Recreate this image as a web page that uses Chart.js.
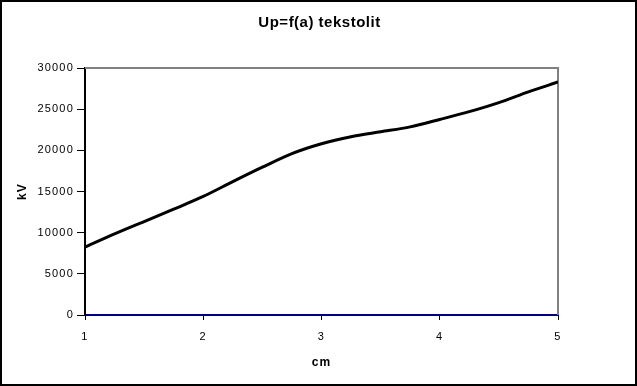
<!DOCTYPE html>
<html>
<head>
<meta charset="utf-8">
<script src="https://cdn.jsdelivr.net/npm/chart.js@4"></script>
<style>
  html, body { margin: 0; padding: 0; background: #fff; }
  #wrap { width: 637px; height: 386px; }
</style>
</head>
<body>
<div id="wrap"><canvas id="upChart" width="637" height="386"></canvas></div>
<script>
// values
const distanceCm = [1, 1.25, 1.5, 1.75, 2, 2.25, 2.5, 2.75, 3, 3.25, 3.5, 3.75, 4, 4.25, 4.5, 4.75, 5];
const voltageKv = [8250, 9850, 11350, 12850, 14400, 16200, 17950, 19600, 20800, 21650, 22250, 22850, 23750, 24700, 25800, 27100, 28300];
const xTicks = [1, 2, 3, 4, 5];
const yTicks = [0, 5000, 10000, 15000, 20000, 25000, 30000];

const points = distanceCm.map((x, i) => ({ x: x, y: voltageKv[i] }));

// gray top/right edge of the plot area and black frame round the picture
const frames = {
    id: 'frames',
    afterLayout(chart) {
        const tb = chart.titleBlock;
        if (!tb) return;
        // centre the title over the plot area
        tb.left = 81;
        tb.right = 558;
        if (!tb._spaced) {
            const origDraw = tb.draw;
            tb.draw = function () {
                const ctx = chart.ctx;
                const keep = ctx.letterSpacing;
                ctx.letterSpacing = '0.5px';
                origDraw.apply(this, arguments);
                ctx.letterSpacing = keep;
            };
            tb._spaced = true;
        }
    },
    beforeDraw(chart) {
        // the original tick text is spaced out a little
        chart.ctx.letterSpacing = '1.2px';
    },
    beforeDatasetsDraw(chart) {
        const { ctx, chartArea: a } = chart;
        ctx.save();
        ctx.strokeStyle = '#808080';
        ctx.lineWidth = 2;
        ctx.beginPath();
        ctx.moveTo(a.left, a.top);
        ctx.lineTo(a.right, a.top);
        ctx.lineTo(a.right, a.bottom);
        ctx.stroke();
        ctx.restore();
    },
    afterDraw(chart) {
        const ctx = chart.ctx;
        ctx.save();
        ctx.strokeStyle = '#000';
        ctx.lineWidth = 2;
        ctx.strokeRect(1, 1, chart.width - 2, chart.height - 2);
        ctx.restore();
    }
};

const chartUp = new Chart(
    document.getElementById('upChart'),
    {
        type: 'line',
        data: {
            datasets: [{
                data: points,
                borderColor: '#000000',
                borderWidth: 3,
                pointRadius: 0,
                tension: 0.3,
                fill: false
            }]
        },
        plugins: [frames],
        options: {
            responsive: false,
            animation: false,
            layout: {
                padding: { left: 0, right: 79, top: 0, bottom: 0 }
            },
            plugins: {
                legend: { display: false },
                tooltip: { enabled: false },
                title: {
                    display: true,
                    text: 'Up=f(a) tekstolit',
                    color: '#000',
                    font: { family: 'Liberation Sans, Arial', size: 15, weight: 'bold' },
                    padding: { top: 14, bottom: 36 }
                }
            },
            scales: {
                x: {
                    type: 'linear',
                    min: 1,
                    max: 5,
                    afterBuildTicks: (axis) => { axis.ticks = xTicks.map(v => ({ value: v })); },
                    afterFit: (axis) => { axis.height = 71; },
                    border: { color: '#000080', width: 2 },
                    grid: { drawOnChartArea: false, color: '#000', tickLength: 5, lineWidth: 1 },
                    ticks: {
                        color: '#000',
                        padding: 10,
                        maxRotation: 0,
                        callback: (v) => String(v),
                        font: { family: 'Liberation Sans, Arial', size: 11 }
                    },
                    title: {
                        display: true,
                        text: 'cm',
                        color: '#000',
                        font: { family: 'Liberation Sans, Arial', size: 12, weight: 'bold' },
                        padding: { top: 0, bottom: 16 }
                    }
                },
                y: {
                    min: 0,
                    max: 30000,
                    afterBuildTicks: (axis) => { axis.ticks = yTicks.map(v => ({ value: v })); },
                    afterFit: (axis) => { axis.width = 85; },
                    border: { color: '#000', width: 2 },
                    grid: { drawOnChartArea: false, color: '#000', tickLength: 8, lineWidth: 1 },
                    ticks: {
                        color: '#000',
                        padding: 3,
                        callback: (v) => String(v),
                        font: { family: 'Liberation Sans, Arial', size: 11 }
                    },
                    title: {
                        display: true,
                        text: 'kV',
                        color: '#000',
                        font: { family: 'Liberation Sans, Arial', size: 12, weight: 'bold' },
                        padding: { top: 15, bottom: 0 }
                    }
                }
            }
        }
    }
);
</script>
</body>
</html>
